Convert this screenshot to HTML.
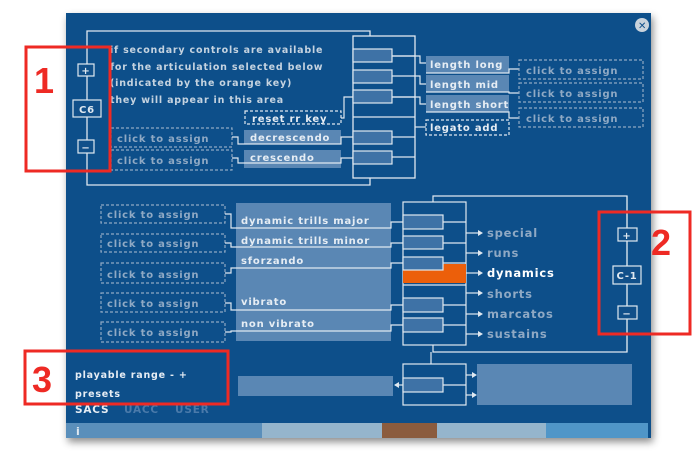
<!DOCTYPE html>
<html><head><style>
body{margin:0;background:#fff;width:700px;height:452px;overflow:hidden}
svg{display:block}
text{font-family:"DejaVu Sans","Liberation Sans",sans-serif;font-weight:bold;letter-spacing:0.8px}
</style></head><body>
<svg width="700" height="452" viewBox="0 0 700 452">
<defs><filter id="sh" x="-5%" y="-5%" width="110%" height="115%"><feDropShadow dx="2" dy="4" stdDeviation="4" flood-opacity="0.45"/></filter></defs>
<rect x="66" y="13" width="585" height="425" fill="#11508a" filter="url(#sh)"/>
<rect x="66" y="423" width="196" height="15" fill="#5a8fbb"/>
<rect x="262" y="423" width="120" height="15" fill="#95b5cc"/>
<rect x="382" y="423" width="55" height="15" fill="#8b5c3e"/>
<rect x="437" y="423" width="109" height="15" fill="#95b5cc"/>
<rect x="546" y="423" width="102" height="15" fill="#5096c8"/>
<text x="76" y="435" fill="#dfe8f0" font-size="11">i</text>
<circle cx="642" cy="25" r="7" fill="#c9d3dc"/>
<text x="638" y="29" font-size="10" fill="#11508a" letter-spacing="0">✕</text>
<g stroke="#dfe8f0" stroke-width="1.3" fill="none">
<polyline points="370,36 370,31 87,31 87,185 370,185 370,178"/>
<rect x="353" y="36" width="62" height="142"/>
<line x1="353" y1="56" x2="415" y2="56"/><line x1="353" y1="76" x2="415" y2="76"/><line x1="353" y1="97" x2="415" y2="97"/><line x1="353" y1="117" x2="415" y2="117"/><line x1="353" y1="137" x2="415" y2="137"/><line x1="353" y1="157" x2="415" y2="157"/>
</g>
<g fill="#3e72a6" stroke="#dfe8f0" stroke-width="1.2">
<rect x="353" y="49" width="39" height="13"/><rect x="353" y="70" width="39" height="13"/><rect x="353" y="90" width="39" height="13"/><rect x="353" y="131" width="39" height="13"/><rect x="353" y="151" width="39" height="13"/>
</g>
<g stroke="#dfe8f0" stroke-width="1.2" fill="#11508a">
<rect x="78" y="64" width="16" height="12"/><rect x="73" y="100" width="28" height="17"/><rect x="78" y="140" width="16" height="13"/>
</g>
<g fill="#dfe8f0" font-size="10" text-anchor="middle">
<text x="86" y="74">+</text><text x="87" y="113" letter-spacing="0.5">C6</text><text x="86" y="151">−</text>
</g>
<g fill="#c5d3e0" font-size="9.5" letter-spacing="0.9">
<text x="110" y="53">if secondary controls are available</text>
<text x="110" y="70">for the articulation selected below</text>
<text x="110" y="86">(indicated by the orange key)</text>
<text x="110" y="103">they will appear in this area</text>
</g>
<rect x="244" y="130" width="97" height="14" fill="#5a87b4"/>
<rect x="244" y="150" width="97" height="18" fill="#5a87b4"/>
<g stroke="#dfe8f0" stroke-width="1.2" fill="none">
<rect x="245" y="111" width="96" height="13" stroke-dasharray="3,2"/>
<rect x="111" y="128" width="121" height="19" stroke-dasharray="3,2" stroke="#8fa9c4"/>
<rect x="111" y="150" width="121" height="20" stroke-dasharray="3,2" stroke="#8fa9c4"/>
<polyline points="232,137 238,137 238,144 341,144 341,137 353,137"/>
<polyline points="232,158 238,158 238,163 341,163 341,158 353,158"/>
<polyline points="341,118 344,118 344,97 353,97"/>
<polyline points="392,56 420,56 420,63 426,63"/>
<polyline points="415,76 420,76 420,84 426,84"/>
<polyline points="392,97 420,97 420,104 426,104"/>
<line x1="415" y1="127" x2="426" y2="127"/>
</g>
<rect x="426" y="56" width="83" height="17" fill="#5a87b4"/>
<rect x="426" y="75" width="83" height="17" fill="#5a87b4"/>
<rect x="426" y="95" width="83" height="17" fill="#5a87b4"/>
<g stroke="#dfe8f0" stroke-width="1.2" fill="none">
<rect x="426" y="120" width="83" height="15" stroke-dasharray="3,2"/>
<polyline points="426,73 509,73 509,69 519,69"/>
<polyline points="426,92 509,92 509,93 519,93"/>
<polyline points="426,112 509,112 509,118 519,118"/>
<g stroke="#8fa9c4" stroke-dasharray="3,2">
<rect x="519" y="60" width="124" height="19"/><rect x="519" y="83" width="124" height="19"/><rect x="519" y="108" width="124" height="19"/>
</g>
</g>
<g fill="#e6edf4" font-size="10">
<text x="252" y="122">reset rr key</text>
<text x="250" y="141">decrescendo</text>
<text x="250" y="161">crescendo</text>
<text x="430" y="68">length long</text>
<text x="430" y="88">length mid</text>
<text x="430" y="108" letter-spacing="0.5">length short</text>
<text x="430" y="131">legato add</text>
</g>
<g fill="#8fa9c4" font-size="10" letter-spacing="1.1">
<text x="117" y="142">click to assign</text>
<text x="117" y="164">click to assign</text>
<text x="526" y="74">click to assign</text>
<text x="526" y="97">click to assign</text>
<text x="526" y="122">click to assign</text>
</g>
<rect x="236" y="203" width="155" height="138" fill="#5a87b4"/>
<g stroke="#8fa9c4" stroke-width="1.2" fill="none" stroke-dasharray="3,2">
<rect x="101" y="205" width="124" height="18"/><rect x="101" y="234" width="124" height="18"/><rect x="101" y="263" width="124" height="20"/><rect x="101" y="293" width="124" height="19"/><rect x="101" y="322" width="124" height="20"/>
</g>
<g stroke="#dfe8f0" stroke-width="1.2" fill="none">
<polyline points="225,214 231,214 231,228 391,228 391,222 403,222"/>
<polyline points="225,243 231,243 231,247 391,247 391,243 403,243"/>
<polyline points="225,273 231,273 231,268 391,268 391,263 403,263"/>
<polyline points="225,303 231,303 231,310 391,310 391,305 403,305"/>
<polyline points="225,332 231,332 231,331 391,331 391,325 403,325"/>
<rect x="403" y="202" width="63" height="143"/>
<polyline points="433,202 433,196 627,196 627,352 433,352 433,345"/>
<line x1="403" y1="243" x2="466" y2="243"/><line x1="403" y1="305" x2="466" y2="305"/><line x1="403" y1="325" x2="466" y2="325"/><line x1="403" y1="222" x2="466" y2="222"/><line x1="403" y1="263" x2="466" y2="263"/><line x1="403" y1="285" x2="466" y2="285"/>
</g>
<rect x="403" y="264" width="63" height="19" fill="#ec5f0a"/>
<g fill="#3e72a6" stroke="#dfe8f0" stroke-width="1.2">
<rect x="403" y="215" width="40" height="14"/><rect x="403" y="236" width="40" height="13"/><rect x="403" y="257" width="40" height="13"/><rect x="403" y="298" width="40" height="14"/><rect x="403" y="318" width="40" height="14"/>
</g>
<g stroke="#dfe8f0" stroke-width="1.2">
<line x1="466" y1="233" x2="478" y2="233"/><line x1="466" y1="253" x2="478" y2="253"/><line x1="466" y1="273" x2="478" y2="273"/><line x1="466" y1="293" x2="478" y2="293"/><line x1="466" y1="314" x2="478" y2="314"/><line x1="466" y1="334" x2="478" y2="334"/>
</g>
<g fill="#dfe8f0"><polygon points="478,230 483,233 478,236"/><polygon points="478,250 483,253 478,256"/><polygon points="478,270 483,273 478,276"/><polygon points="478,290 483,293 478,296"/><polygon points="478,311 483,314 478,317"/><polygon points="478,331 483,334 478,337"/></g>
<g fill="#e6edf4" font-size="10" letter-spacing="0.6">
<text x="241" y="224">dynamic trills major</text>
<text x="241" y="244">dynamic trills minor</text>
<text x="241" y="264">sforzando</text>
<text x="241" y="305">vibrato</text>
<text x="241" y="327">non vibrato</text>
</g>
<g fill="#8fa9c4" font-size="10" letter-spacing="1.1">
<text x="107" y="218">click to assign</text><text x="107" y="247">click to assign</text><text x="107" y="278">click to assign</text><text x="107" y="307">click to assign</text><text x="107" y="336">click to assign</text>
</g>
<g fill="#8fa9c4" font-size="11.5" letter-spacing="2">
<text x="487" y="237">special</text><text x="487" y="257">runs</text><text x="487" y="277" fill="#ffffff">dynamics</text><text x="487" y="298">shorts</text><text x="487" y="318">marcatos</text><text x="487" y="338">sustains</text>
</g>
<line x1="627" y1="196" x2="627" y2="352" stroke="#dfe8f0" stroke-width="1.2"/>
<g stroke="#dfe8f0" stroke-width="1.2" fill="#11508a">
<rect x="618" y="228" width="19" height="13"/><rect x="613" y="266" width="28" height="18"/><rect x="618" y="306" width="19" height="13"/>
</g>
<g fill="#dfe8f0" font-size="10" text-anchor="middle" letter-spacing="0.5">
<text x="627" y="239">+</text><text x="627" y="279">C-1</text><text x="627" y="317">−</text>
</g>
<rect x="238" y="376" width="155" height="20" fill="#5a87b4"/>
<rect x="477" y="364" width="155" height="41" fill="#5a87b4"/>
<g stroke="#dfe8f0" stroke-width="1.2" fill="none">
<line x1="431" y1="352" x2="431" y2="364"/>
<rect x="403" y="364" width="63" height="41"/>
<line x1="443" y1="385" x2="466" y2="385"/>
<line x1="466" y1="375" x2="475" y2="375"/><line x1="466" y1="395" x2="475" y2="395"/>
<line x1="395" y1="385" x2="403" y2="385"/>
</g>
<rect x="403" y="378" width="40" height="14" fill="#3e72a6" stroke="#dfe8f0" stroke-width="1.2"/>
<g fill="#dfe8f0"><polygon points="472,372 477,375 472,378"/><polygon points="472,392 477,395 472,398"/><polygon points="399,382 394,385 399,388"/></g>
<g fill="#e6edf4" font-size="9.5">
<text x="75" y="378">playable range  -  +</text>
<text x="75" y="397">presets</text>
<text x="75" y="413" font-size="10.5">SACS</text>
</g>
<text x="124" y="413" fill="#4a7aaa" font-size="10.5">UACC</text>
<text x="175" y="413" fill="#4a7aaa" font-size="10.5">USER</text>
<g stroke="#ee2a24" stroke-width="3" fill="none">
<rect x="26" y="47" width="84" height="124"/>
<rect x="599" y="212" width="91" height="122"/>
<rect x="25" y="351" width="203" height="53"/>
</g>
<g fill="#ee2a24" font-weight="bold" font-size="36" letter-spacing="0">
<text x="34" y="93" style="font-family:'Liberation Sans',sans-serif">1</text>
<text x="651" y="255" style="font-family:'Liberation Sans',sans-serif">2</text>
<text x="32" y="392" style="font-family:'Liberation Sans',sans-serif">3</text>
</g>
</svg>
</body></html>
